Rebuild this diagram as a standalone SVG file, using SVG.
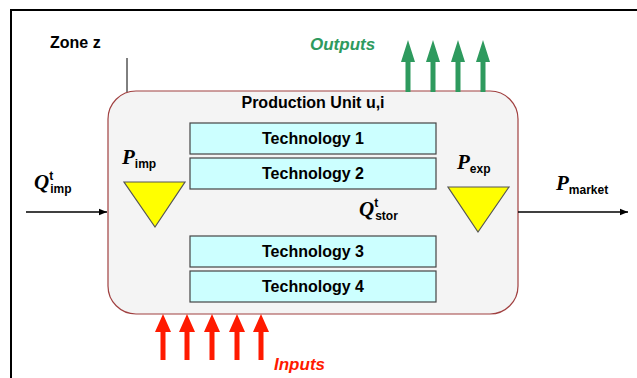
<svg xmlns="http://www.w3.org/2000/svg" width="637" height="378" viewBox="0 0 637 378">
<defs>
<style>
.lbl{font-family:"Liberation Sans",Arial,sans-serif;font-size:16px;font-weight:bold;fill:#000;}
.math{font-family:"Liberation Serif","Times New Roman",serif;font-style:italic;font-size:21px;font-weight:bold;fill:#000;}
.sub{font-family:"Liberation Sans",Arial,sans-serif;font-size:12px;font-style:normal;font-weight:bold;}
.tech rect{fill:#ccffff;stroke:#444;stroke-width:1.2;}
.tech text{font-family:"Liberation Sans",Arial,sans-serif;font-size:16px;font-weight:bold;fill:#000;text-anchor:middle;}
.tri{fill:#ffff00;stroke:#555;stroke-width:1.2;}
.io{font-family:"Liberation Sans",Arial,sans-serif;font-size:17px;font-style:italic;font-weight:bold;}
</style>
<marker id="ah" viewBox="0 0 10 10" refX="10" refY="5" markerWidth="8" markerHeight="8" orient="auto" markerUnits="userSpaceOnUse">
<path d="M0,1 L10,5 L0,9 z" fill="#000"/>
</marker>
<path id="garr" d="M-2.5,0 L-2.5,-30 L-7,-30 L0,-52 L7,-30 L2.5,-30 L2.5,0 z"/>
<path id="rarr" d="M-2.5,0 L-2.5,-28 L-8,-28 L0,-46 L8,-28 L2.5,-28 L2.5,0 z"/>
</defs>
<rect width="637" height="378" fill="#fff"/>
<rect id="frame" x="11" y="10" width="640" height="400" fill="none" stroke="#000" stroke-width="2"/>

<g id="zone">
<text class="lbl" x="50" y="48" font-size="17">Zone z</text>
<line x1="127" y1="58" x2="127" y2="92" stroke="#000" stroke-width="1"/>
</g>

<g id="production-unit">
<rect x="108" y="91" width="410" height="223" rx="28" fill="#f4f4f4" stroke="#a04040" stroke-width="1.2"/>
<text class="lbl" x="313" y="108" text-anchor="middle" font-size="15">Production Unit u,i</text>
</g>

<g id="tech1" class="tech"><rect x="190" y="123" width="246" height="31"/><text x="313" y="144">Technology 1</text></g>
<g id="tech2" class="tech"><rect x="190" y="158" width="246" height="31"/><text x="313" y="179">Technology 2</text></g>
<g id="tech3" class="tech"><rect x="190" y="236" width="246" height="31"/><text x="313" y="257">Technology 3</text></g>
<g id="tech4" class="tech"><rect x="190" y="271" width="246" height="31"/><text x="313" y="292">Technology 4</text></g>

<g id="storage-in">
<polygon class="tri" points="124,182 185,182 155,227"/>
<text class="math" x="122" y="164">P<tspan class="sub" dy="4">imp</tspan></text>
</g>
<g id="storage-out">
<polygon class="tri" points="448,187 509,187 478,232"/>
<text class="math" x="457" y="169">P<tspan class="sub" dy="4">exp</tspan></text>
</g>

<text id="qstor" class="math" x="359" y="216">Q<tspan class="sub" dy="-9">t</tspan><tspan class="sub" dx="-3" dy="13">stor</tspan></text>

<g id="connectors">
<line x1="26" y1="212" x2="107" y2="212" stroke="#000" stroke-width="1.3" marker-end="url(#ah)"/>
<line x1="518" y1="212" x2="628" y2="212" stroke="#000" stroke-width="1.3" marker-end="url(#ah)"/>
<g fill="#2e9a5e">
<use href="#garr" x="408" y="92"/>
<use href="#garr" x="433" y="92"/>
<use href="#garr" x="458" y="92"/>
<use href="#garr" x="483" y="92"/>
</g>
<g fill="#ff1a00">
<use href="#rarr" x="163" y="360"/>
<use href="#rarr" x="187" y="360"/>
<use href="#rarr" x="212" y="360"/>
<use href="#rarr" x="237" y="360"/>
<use href="#rarr" x="261" y="360"/>
</g>
</g>

<text id="qimp" class="math" x="34" y="189">Q<tspan class="sub" dy="-9">t</tspan><tspan class="sub" dx="-3" dy="13">imp</tspan></text>
<text id="pmarket" class="math" x="556" y="190">P<tspan class="sub" dy="4">market</tspan></text>
<text id="outputs" class="io" x="310" y="50" fill="#2e9a5e">Outputs</text>
<text id="inputs" class="io" x="274" y="370" fill="#ff1a00">Inputs</text>
</svg>
